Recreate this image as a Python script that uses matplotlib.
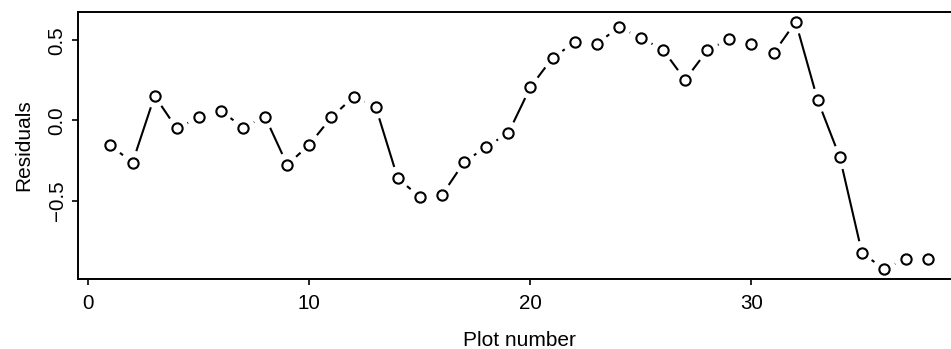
import numpy as np
import matplotlib
matplotlib.use('Agg')
import matplotlib.pyplot as plt

plt.rcParams['font.family'] = ['Liberation Sans', 'DejaVu Sans']

plot_number = np.arange(1, 39)
residuals = np.array([
    -0.156, -0.262, 0.153, -0.050, 0.020, 0.060, -0.044, 0.022, -0.277, -0.150,
    0.020, 0.147, 0.085, -0.361, -0.476, -0.464, -0.260, -0.164, -0.079, 0.207,
    0.390, 0.486, 0.477, 0.581, 0.515, 0.440, 0.253, 0.436, 0.508, 0.475,
    0.419, 0.614, 0.125, -0.230, -0.825, -0.926, -0.862, -0.860,
])
x_ticks = [0, 10, 20, 30]
y_ticks = [-0.5, 0.0, 0.5]
y_ticklabels = ['\u22120.5', '0.0', '0.5']

W, H = 951, 349
fig = plt.figure(figsize=(W / 100, H / 100), dpi=100)
# box runs past the right edge of the image, like the original
left, right, top, bottom = 77.7, 961.0, 12.0, 279.0
ax = fig.add_axes([left / W, 1 - bottom / H, (right - left) / W, (bottom - top) / H])

# R style 4% padding
xr = plot_number.max() - plot_number.min()
yr = residuals.max() - residuals.min()
ax.set_xlim(plot_number.min() - 0.04 * xr, plot_number.max() + 0.04 * xr)
ax.set_ylim(residuals.min() - 0.04 * yr, residuals.max() + 0.04 * yr)

# type="b": segments with a gap around every point
gap = 12.0
pts = ax.transData.transform(np.column_stack([plot_number, residuals]))
inv = ax.transData.inverted()
for i in range(len(pts) - 1):
    p0, p1 = pts[i], pts[i + 1]
    d = np.hypot(*(p1 - p0))
    if d <= 2 * gap:
        continue
    u = (p1 - p0) / d
    seg = inv.transform(np.array([p0 + u * gap, p1 - u * gap]))
    ax.plot(seg[:, 0], seg[:, 1], color='black', lw=1.5, solid_capstyle='butt')

ax.plot(plot_number, residuals, linestyle='none', marker='o', markersize=7.4,
        markerfacecolor='white', markeredgecolor='black', markeredgewidth=1.5)

for s in ax.spines.values():
    s.set_linewidth(1.4)

ax.set_xticks(x_ticks)
ax.set_yticks(y_ticks)
ax.set_yticklabels(y_ticklabels, rotation=90, va='center')
ax.tick_params(axis='both', direction='out', length=4, width=1.2, labelsize=14.8)
ax.tick_params(axis='x', pad=7)
ax.tick_params(axis='y', pad=4)

ax.set_xlabel('Plot number', fontsize=15, labelpad=13)
ax.set_ylabel('Residuals', fontsize=15, labelpad=10)

fig.savefig('out.png', dpi=100)
